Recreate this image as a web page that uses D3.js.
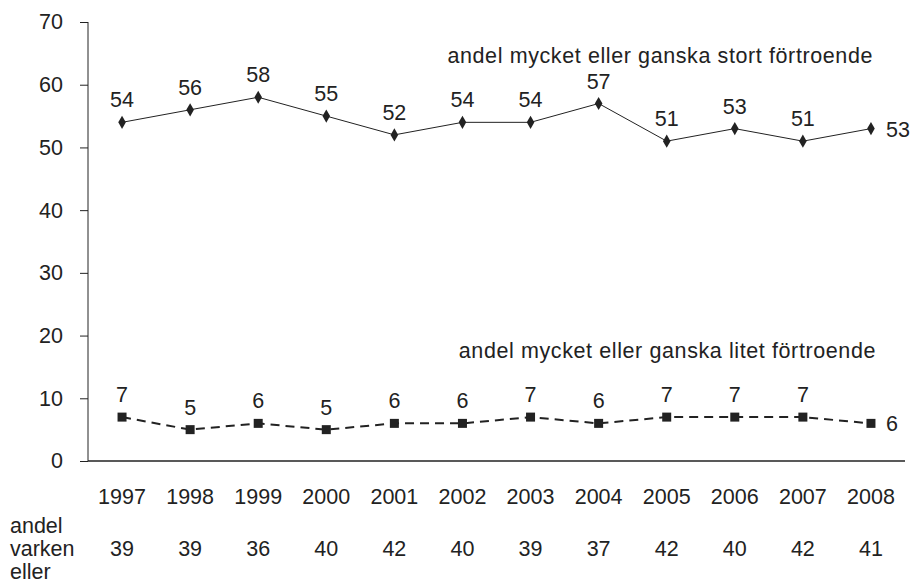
<!DOCTYPE html>
<html>
<head>
    <style>
        body { margin: 0; background: white; }
        svg { font-family: 'Liberation Sans', Arial, sans-serif; }
    </style>
    <script src="https://d3js.org/d3.v7.min.js"></script>
</head>
<body>
    <div id="chart"></div>
    <script>
        const years = ["1997","1998","1999","2000","2001","2002","2003","2004","2005","2006","2007","2008"];
        const stort = [54, 56, 58, 55, 52, 54, 54, 57, 51, 53, 51, 53];
        const litet = [7, 5, 6, 5, 6, 6, 7, 6, 7, 7, 7, 6];
        const varken = [39, 39, 36, 40, 42, 40, 39, 37, 42, 40, 42, 41];
        const yTicks = [0, 10, 20, 30, 40, 50, 60, 70];

        const [width, height] = [913, 585];
        const fs = 21.5;
        const ink = "#222";
        const svg = d3.select("#chart").append("svg")
            .attr("width", width)
            .attr("height", height);

        const x = d3.scaleBand().domain(years).range([88, 905]);
        const y = d3.scaleLinear().domain([0, 70]).range([461, 22]);
        const cx = d => x(d) + x.bandwidth() / 2;

        // y axis
        const yAxis = d3.axisLeft(y).tickValues(yTicks).tickSize(8).tickPadding(17);
        const gy = svg.append("g").attr("transform", "translate(88,0)").call(yAxis);
        gy.select(".domain").attr("d", "M0,22V461").attr("stroke", ink);
        gy.selectAll(".tick line").attr("stroke", ink);
        gy.selectAll("text").attr("font-size", fs).attr("fill", ink)
            .attr("font-family", "'Liberation Sans', Arial, sans-serif");

        // x axis line
        svg.append("line")
            .attr("x1", 88).attr("x2", 905)
            .attr("y1", y(0)).attr("y2", y(0))
            .attr("stroke", ink).attr("stroke-width", 1.5);

        // year labels
        svg.selectAll(".year").data(years).enter().append("text")
            .attr("x", d => cx(d)).attr("y", 504)
            .attr("text-anchor", "middle").attr("font-size", fs).attr("fill", ink)
            .text(d => d);

        // "andel varken eller" row
        svg.append("text").attr("x", 10).attr("y", 533).attr("font-size", fs).attr("fill", ink).text("andel");
        svg.append("text").attr("x", 10).attr("y", 556).attr("font-size", fs).attr("fill", ink).text("varken");
        svg.append("text").attr("x", 10).attr("y", 579).attr("font-size", fs).attr("fill", ink).text("eller");
        svg.selectAll(".varken").data(varken).enter().append("text")
            .attr("x", (d, i) => cx(years[i])).attr("y", 556)
            .attr("text-anchor", "middle").attr("font-size", fs).attr("fill", ink)
            .text(d => d);

        const line = d3.line().x((d, i) => cx(years[i])).y(d => y(d));
        const last = years.length - 1;

        // stort series
        svg.append("path").datum(stort)
            .attr("d", line).attr("fill", "none")
            .attr("stroke", ink).attr("stroke-width", 1);
        svg.selectAll(".diamond").data(stort).enter().append("path")
            .attr("d", d3.symbol().type(d3.symbolDiamond).size(50))
            .attr("transform", (d, i) => `translate(${cx(years[i])},${y(d)})`)
            .attr("fill", ink);
        svg.selectAll(".stortLabel").data(stort).enter().append("text")
            .attr("x", (d, i) => i === last ? cx(years[i]) + 15 : cx(years[i]))
            .attr("y", (d, i) => i === last ? y(d) + 8 : y(d) - 15)
            .attr("text-anchor", (d, i) => i === last ? "start" : "middle")
            .attr("font-size", fs).attr("fill", ink)
            .text(d => d);

        // litet series
        svg.append("path").datum(litet)
            .attr("d", line).attr("fill", "none")
            .attr("stroke", ink).attr("stroke-width", 2)
            .attr("stroke-dasharray", "9,6");
        svg.selectAll(".square").data(litet).enter().append("rect")
            .attr("x", (d, i) => cx(years[i]) - 4.5)
            .attr("y", d => y(d) - 4.5)
            .attr("width", 9).attr("height", 9)
            .attr("fill", ink);
        svg.selectAll(".litetLabel").data(litet).enter().append("text")
            .attr("x", (d, i) => i === last ? cx(years[i]) + 15 : cx(years[i]))
            .attr("y", (d, i) => i === last ? y(d) + 8 : y(d) - 15)
            .attr("text-anchor", (d, i) => i === last ? "start" : "middle")
            .attr("font-size", fs).attr("fill", ink)
            .text(d => d);

        // series labels
        svg.append("text").attr("x", 873).attr("y", 63)
            .attr("text-anchor", "end").attr("font-size", fs).attr("fill", ink)
            .attr("letter-spacing", 0.6)
            .text("andel mycket eller ganska stort förtroende");
        svg.append("text").attr("x", 876).attr("y", 358)
            .attr("text-anchor", "end").attr("font-size", fs).attr("fill", ink)
            .attr("letter-spacing", 0.6)
            .text("andel mycket eller ganska litet förtroende");
    </script>
</body>
</html>
